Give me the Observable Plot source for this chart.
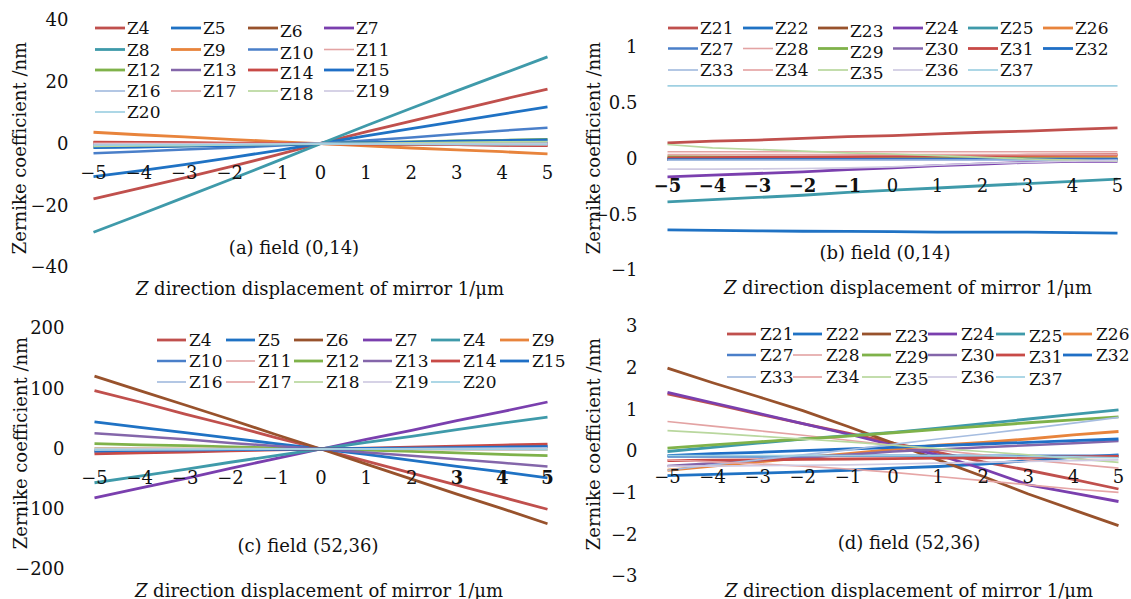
<!DOCTYPE html>
<html><head><meta charset="utf-8">
<script src="https://cdn.jsdelivr.net/npm/d3@7"></script>
<script src="https://cdn.jsdelivr.net/npm/@observablehq/plot@0.6"></script>
<style>
html,body{margin:0;padding:0;background:#fff;}
#wrap{position:relative;width:1131px;height:599px;overflow:hidden;background:#fff;font-family:"DejaVu Serif",serif;}
#wrap svg.plot{position:absolute;}
#overlay{position:absolute;left:0;top:0;}
</style></head>
<body><div id="wrap"></div>
<script>
// ---------- data ----------
const xs = [-5,-4,-3,-2,-1,0,1,2,3,4,5];
const xTicks = [-5,-4,-3,-2,-1,0,1,2,3,4,5];

const namesA = ["Z4","Z5","Z6","Z7","Z8","Z9","Z10","Z11","Z12","Z13","Z14","Z15","Z16","Z17","Z18","Z19","Z20"];
const namesB = ["Z21","Z22","Z23","Z24","Z25","Z26","Z27","Z28","Z29","Z30","Z31","Z32","Z33","Z34","Z35","Z36","Z37"];
const legendC = ["Z4","Z5","Z6","Z7","Z4","Z9","Z10","Z11","Z12","Z13","Z14","Z15","Z16","Z17","Z18","Z19","Z20"];

const colors = ["#c0504d","#1f72c4","#98522c","#7a3fae","#3f9aaa","#e8843c","#4a7fc9","#e3a3a3",
                "#7fb24a","#8466aa","#c84a47","#1f6fc6","#a6bde0","#e6a6a6","#b9d79e","#cfcae2","#9fd0e2"];
const widths = [2.8,2.8,2.8,2.8,2.8,2.8,2.5,1.6,2.8,2.5,2.8,2.8,1.7,1.7,1.7,1.7,1.7];

// panel (a): field (0,14), Z4–Z20, nm
const valuesA = [
  [-17.8,-14.4,-11.0,-7.4,-3.7,0.2,3.9,7.4,10.9,14.4,17.8],
  [-10.6,-8.7,-6.7,-4.5,-2.2,0.2,2.6,5.0,7.3,9.7,12.0],
  [0.5,0.4,0.3,0.2,0.1,0.1,0.0,-0.1,-0.2,-0.3,-0.4],
  [-0.3,-0.2,-0.2,-0.1,0.0,0.1,0.1,0.2,0.2,0.3,0.3],
  [-28.6,-23.0,-17.3,-11.6,-5.8,0.1,5.9,11.6,17.2,22.7,28.2],
  [3.8,3.0,2.3,1.5,0.8,0.1,-0.6,-1.3,-1.9,-2.5,-3.2],
  [-3.0,-2.4,-1.8,-1.2,-0.6,0.2,1.1,2.1,3.2,4.3,5.3],
  [0.4,0.3,0.3,0.2,0.1,0.1,0.0,-0.1,-0.2,-0.3,-0.4],
  [-1.0,-0.8,-0.6,-0.4,-0.2,0.1,0.4,0.7,1.0,1.2,1.5],
  [-0.2,-0.2,-0.1,-0.1,0.0,0.1,0.1,0.1,0.2,0.2,0.2],
  [0.6,0.5,0.4,0.3,0.2,0.1,0.0,-0.1,-0.2,-0.4,-0.5],
  [-1.2,-1.0,-0.7,-0.5,-0.2,0.1,0.4,0.6,0.9,1.1,1.3],
  [-0.5,-0.4,-0.3,-0.2,-0.1,0.1,0.1,0.2,0.2,0.3,0.3],
  [0.2,0.2,0.1,0.1,0.1,0.1,0.0,0.0,-0.1,-0.1,-0.2],
  [-0.8,-0.6,-0.5,-0.3,-0.1,0.1,0.2,0.4,0.5,0.7,0.8],
  [0.0,0.0,0.0,0.0,0.0,0.1,0.0,0.0,0.0,0.0,0.0],
  [-0.4,-0.3,-0.3,-0.2,-0.1,0.1,0.0,-0.1,-0.1,-0.2,-0.2]
];

// panel (b): field (0,14), Z21–Z37, nm
const valuesB = [
  [0.145,0.16,0.17,0.185,0.2,0.21,0.225,0.24,0.25,0.265,0.28],
  [-0.635,-0.64,-0.645,-0.648,-0.65,-0.652,-0.655,-0.655,-0.656,-0.66,-0.665],
  [0.0,0.0,0.0,0.0,0.0,0.0,0.0,0.0,0.0,0.0,0.0],
  [-0.16,-0.145,-0.13,-0.115,-0.095,-0.08,-0.06,-0.045,-0.03,-0.02,-0.02],
  [-0.385,-0.365,-0.345,-0.325,-0.3,-0.28,-0.26,-0.24,-0.22,-0.2,-0.18],
  [0.0,0.003,0.006,0.009,0.012,0.015,0.018,0.021,0.024,0.027,0.03],
  [-0.005,-0.005,-0.005,-0.005,-0.005,-0.005,-0.005,-0.005,-0.005,-0.005,-0.005],
  [0.065,0.065,0.065,0.065,0.065,0.065,0.065,0.065,0.065,0.065,0.065],
  [0.02,0.018,0.016,0.014,0.012,0.01,0.008,0.006,0.004,0.002,0.0],
  [0.0,0.0,0.0,0.0,0.0,0.0,0.0,0.0,0.0,0.0,0.0],
  [0.01,0.013,0.016,0.019,0.022,0.025,0.028,0.031,0.034,0.037,0.04],
  [-0.005,-0.005,-0.005,-0.005,-0.005,-0.005,-0.005,-0.005,-0.005,-0.005,-0.005],
  [-0.01,-0.01,-0.01,-0.01,-0.01,-0.01,-0.01,-0.01,-0.01,-0.01,-0.01],
  [0.04,0.04,0.04,0.04,0.04,0.04,0.04,0.04,0.04,0.04,0.04],
  [0.13,0.1,0.085,0.07,0.055,0.045,0.03,0.015,0.0,-0.01,-0.02],
  [-0.09,-0.09,-0.088,-0.085,-0.08,-0.07,-0.055,-0.04,-0.03,-0.02,-0.015],
  [0.655,0.655,0.655,0.655,0.655,0.655,0.655,0.655,0.655,0.655,0.655]
];

// panel (c): field (52,36), Z4–Z20, nm
const valuesC = [
  [97,78,58,39,19,0,-20,-40,-60,-80,-100],
  [45,36,27,18,9,0,-9,-19,-29,-38,-48],
  [121,97,73,49,24,0,-25,-50,-75,-99,-124],
  [-81,-65,-49,-32,-16,0,16,31,47,62,78],
  [-56,-45,-34,-22,-11,0,11,21,32,43,53],
  [-3,-2.4,-1.8,-1.2,-0.6,0,0.6,1.2,1.8,2.4,3],
  [-5,-4,-3,-2,-1,0,1,2,3,4,5],
  [-4,-3.2,-2.4,-1.6,-0.8,0,0.6,1.2,1.8,2.4,3],
  [9,7,5.5,3.5,1.8,0,-2,-4,-6.5,-9,-11],
  [26,21,16,10,5,0,-6,-11,-17,-23,-29],
  [-8,-6.5,-5,-3.2,-1.6,0,1.6,3.2,4.8,6.4,8],
  [-3,-2.4,-1.8,-1.2,-0.6,0,0.8,1.6,2.4,3.2,4],
  [-2,-1.6,-1.2,-0.8,-0.4,0,0.4,0.8,1.2,1.6,2],
  [2,1.6,1.2,0.8,0.4,0,-0.4,-0.8,-1.2,-1.6,-2],
  [1,0.8,0.6,0.4,0.2,0,-0.2,-0.4,-0.6,-0.8,-1],
  [0,0,0,0,0,0,0,0,0,0,0],
  [-1,-0.8,-0.6,-0.4,-0.2,0,-0.2,-0.4,-0.6,-0.8,-1]
];

// panel (d): field (52,36), Z21–Z37, nm
const valuesD = [
  [1.38,1.15,0.9,0.67,0.44,0.2,-0.02,-0.25,-0.45,-0.67,-0.9],
  [-0.58,-0.55,-0.52,-0.49,-0.45,-0.4,-0.36,-0.3,-0.22,-0.14,-0.08],
  [2.0,1.65,1.32,0.98,0.6,0.2,-0.2,-0.6,-1.02,-1.4,-1.78],
  [1.42,1.17,0.92,0.67,0.42,0.15,-0.08,-0.42,-0.8,-1.0,-1.2],
  [0.0,0.1,0.2,0.3,0.38,0.46,0.56,0.67,0.78,0.89,1.0],
  [-0.45,-0.35,-0.25,-0.15,-0.05,0.05,0.15,0.22,0.3,0.4,0.48],
  [-0.12,-0.12,-0.12,-0.11,-0.1,-0.1,-0.1,-0.1,-0.1,-0.1,-0.1],
  [0.72,0.61,0.5,0.39,0.27,0.15,0.03,-0.08,-0.2,-0.3,-0.4],
  [0.08,0.16,0.23,0.3,0.37,0.45,0.53,0.61,0.69,0.76,0.83],
  [-0.35,-0.28,-0.21,-0.15,-0.08,0.0,0.05,0.1,0.15,0.2,0.25],
  [-0.22,-0.21,-0.2,-0.19,-0.18,-0.17,-0.16,-0.15,-0.14,-0.13,-0.12],
  [-0.1,-0.05,-0.02,0.02,0.06,0.1,0.14,0.18,0.22,0.26,0.3],
  [-0.45,-0.32,-0.2,-0.08,0.04,0.17,0.3,0.42,0.55,0.68,0.82],
  [-0.2,-0.25,-0.3,-0.35,-0.42,-0.5,-0.6,-0.7,-0.8,-0.9,-0.98],
  [0.5,0.44,0.37,0.3,0.23,0.15,0.07,0.0,-0.08,-0.17,-0.26],
  [-0.35,-0.35,-0.34,-0.33,-0.32,-0.3,-0.28,-0.26,-0.24,-0.22,-0.2],
  [-0.1,-0.1,-0.1,-0.1,-0.1,-0.1,-0.1,-0.1,-0.12,-0.13,-0.15]
];

const yTicksA = [40,20,0,-20,-40];
const yTicksB = [1,0.5,0,-0.5,-1];
const yTicksC = [200,100,0,-100,-200];
const yTicksD = [3,2,1,0,-1,-2,-3];

// ---------- helpers ----------
const FONT = "DejaVu Serif";
const fmt = d => (d < 0 ? "\u2212" : "") + Math.abs(d);
const wrap = document.getElementById("wrap");

function panel(cfg) {
  const marks = [];
  marks.push(Plot.axisY({ticks: cfg.yTicks, tickSize: 0, tickPadding: cfg.tickPad, tickFormat: fmt, label: null, fontSize: 18}));
  cfg.values.forEach((vals, i) => {
    const rows = xs.map((x, j) => ({x, y: vals[j]}));
    marks.push(Plot.line(rows, {x: "x", y: "y", stroke: colors[i], strokeWidth: widths[i], strokeLinecap: "butt"}));
  });
  const isBold = cfg.bold || (() => false);
  const boldT = xTicks.filter(isBold), normT = xTicks.filter(d => !isBold(d));
  marks.push(Plot.text(boldT, {x: d => d, y: 0, dy: cfg.labDy, text: fmt, fontSize: 18, fontWeight: "bold", fill: "#111"}));
  marks.push(Plot.text(normT, {x: d => d, y: 0, dy: cfg.labDy, text: fmt, fontSize: 18, fill: "#111"}));
  const svg = Plot.plot({
    width: cfg.w, height: cfg.h,
    marginLeft: cfg.ml, marginRight: cfg.mr, marginTop: cfg.mt, marginBottom: cfg.mb,
    x: {domain: [-5, 5], axis: null},
    y: {domain: cfg.yDomain, axis: null},
    style: {fontFamily: FONT, fontSize: "18px", color: "#111", background: "transparent", overflow: "visible"},
    marks
  });
  svg.classList.add("plot");
  svg.style.left = cfg.left + "px";
  svg.style.top = cfg.top + "px";
  wrap.appendChild(svg);
}

panel({values: valuesA, yTicks: yTicksA, yDomain: [-40, 40], left: 0, top: 0, w: 566, h: 300,
       ml: 93, mr: 19, mt: 20, mb: 33, tickPad: 25, labDy: 29});
panel({values: valuesB, yTicks: yTicksB, yDomain: [-1, 1], left: 566, top: 0, w: 565, h: 300,
       ml: 101, mr: 14, mt: 47, mb: 30, tickPad: 30, labDy: 27, bold: d => d < 0});
panel({values: valuesC, yTicks: yTicksC, yDomain: [-200, 200], left: 0, top: 300, w: 566, h: 299,
       ml: 94, mr: 19, mt: 28, mb: 30, tickPad: 30, labDy: 29, bold: d => d >= 3});
panel({values: valuesD, yTicks: yTicksD, yDomain: [-3, 3], left: 566, top: 300, w: 565, h: 299,
       ml: 101, mr: 13, mt: 26, mb: 23, tickPad: 30, labDy: 26});

// ---------- overlay: legends and titles ----------
const NS = "http://www.w3.org/2000/svg";
const ov = document.createElementNS(NS, "svg");
ov.setAttribute("id", "overlay");
ov.setAttribute("width", 1131); ov.setAttribute("height", 599);
ov.style.fontFamily = FONT;
wrap.appendChild(ov);

function txt(s, x, y, size, opts = {}) {
  const t = document.createElementNS(NS, "text");
  t.setAttribute("x", x); t.setAttribute("y", y);
  t.setAttribute("font-size", size);
  t.setAttribute("text-anchor", opts.anchor || "middle");
  t.setAttribute("dominant-baseline", "central");
  t.setAttribute("fill", "#111");
  if (opts.rotate) t.setAttribute("transform", `rotate(-90 ${x} ${y})`);
  if (opts.html) t.innerHTML = s; else t.textContent = s;
  ov.appendChild(t);
}
function legend(labels, colX, rowY, swLen, gap, colDy) {
  labels.forEach((lab, i) => {
    const c = i % colX.length, r = Math.floor(i / colX.length);
    const sx = colX[c], y = rowY[r];
    const ln = document.createElementNS(NS, "line");
    ln.setAttribute("x1", sx); ln.setAttribute("x2", sx + swLen);
    ln.setAttribute("y1", y); ln.setAttribute("y2", y);
    ln.setAttribute("stroke", colors[i]); ln.setAttribute("stroke-width", widths[i]);
    ov.appendChild(ln);
    txt(lab, sx + swLen + gap, y + (colDy[c] || 0), 17, {anchor: "start"});
  });
}
legend(namesA, [95,171,248,324], [28,49.5,70,91,112], 30, 2, [0,0,3,0]);
legend(namesB, [668,743,818,893,968,1043], [28,48.5,70], 30, 2, [0,0,3,0,0,0]);
legend(legendC, [157,226,294,363,431,500], [340,361,382], 29, 3, [0,0,0,0,0,0]);
legend(namesB, [727,793,862,928,996,1063], [334,355,377], 29, 4, [0,0,2,0,2,0]);

const xt = '<tspan font-style="italic">Z</tspan> direction displacement of mirror 1/\u03bcm';
txt("(a) field (0,14)", 294, 247, 18);
txt("(b) field (0,14)", 885, 252, 18);
txt("(c) field (52,36)", 308, 545, 18);
txt("(d) field (52,36)", 909, 542, 18);
txt(xt, 320, 288, 18, {html: true});
txt(xt, 908, 287, 18, {html: true});
txt(xt, 319, 590, 18, {html: true});
txt(xt, 909, 590, 18, {html: true});
txt("Zernike coefficient /nm", 19, 148, 18, {rotate: true});
txt("Zernike coefficient /nm", 593, 148, 18, {rotate: true});
txt("Zernike coefficient /nm", 20, 443, 18, {rotate: true});
txt("Zernike coefficient /nm", 593, 444, 18, {rotate: true});
</script></body></html>
